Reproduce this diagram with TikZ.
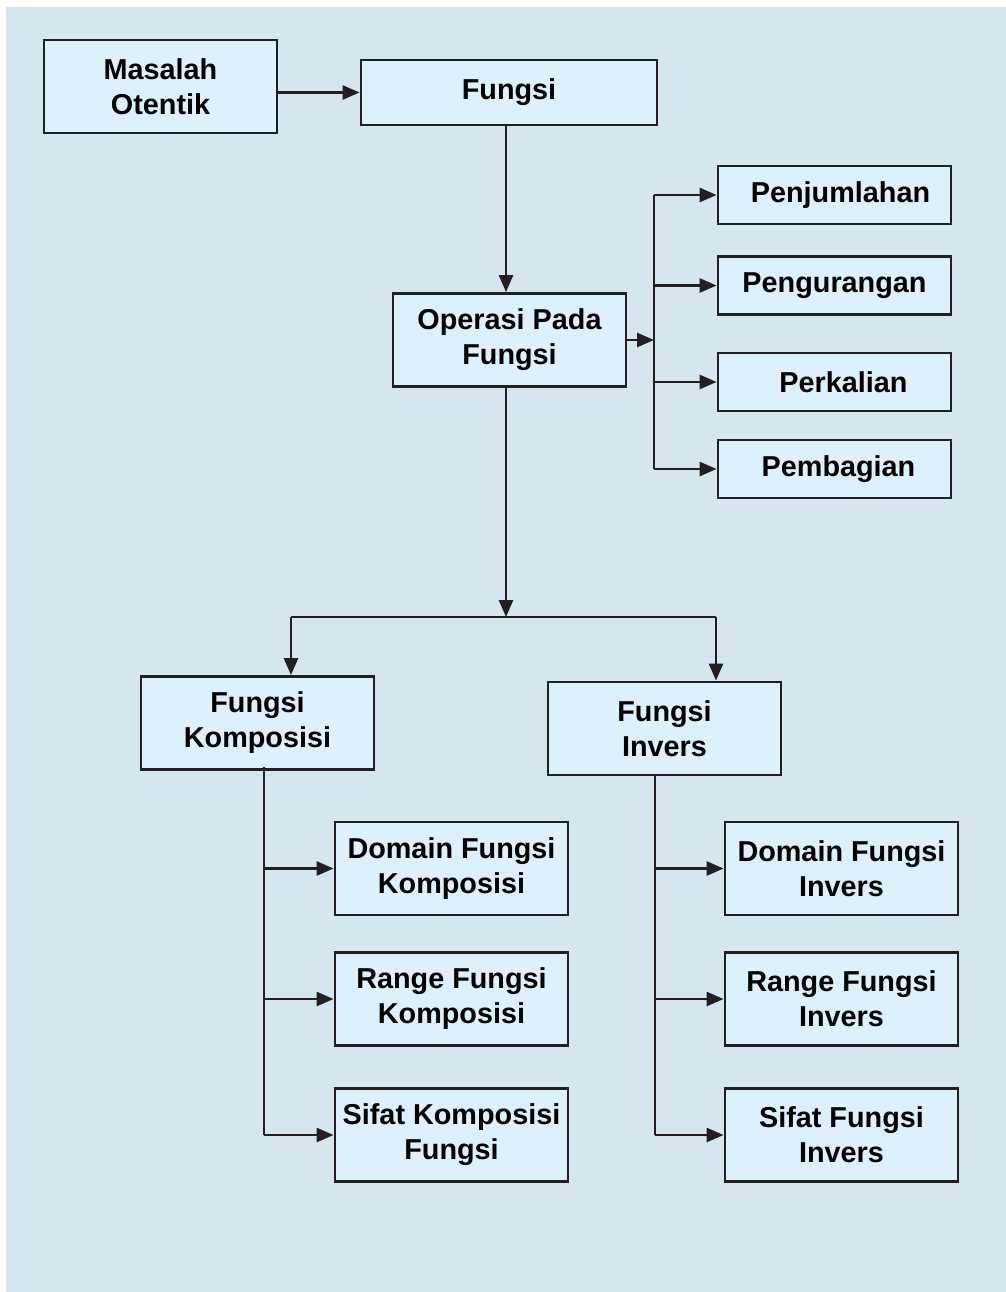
\documentclass[tikz,border=0pt]{standalone}
\usepackage{fontspec}
\setmainfont{Liberation Sans}
\usetikzlibrary{arrows.meta}
\definecolor{bgblue}{RGB}{213,230,239}
\definecolor{boxblue}{RGB}{220,241,251}
\definecolor{inkgray}{RGB}{35,31,32}

\tikzset{
	topic/.style={draw=inkgray, line width=1.4pt, fill=boxblue, align=center, inner sep=0pt,
		minimum width=116.5pt, minimum height=46.5pt, font=\fontsize{14.4}{17.5}\selectfont\bfseries},
	optopic/.style={topic, minimum height=29pt},
	link/.style={draw=inkgray, line width=1.35pt, -{Triangle[length=8.5pt,width=7pt]}},
	busline/.style={draw=inkgray, line width=1.35pt}
}

\begin{document}
\begin{tikzpicture}[x=0.5pt,y=-0.5pt]
	\useasboundingbox (0,0) rectangle (1006,1292);
	\fill[bgblue] (6,7) rectangle (1006,1292);

	% top row
	\node[topic] (masalah) at (160.5,86.5) {Masalah\\Otentik};
	\node[topic, minimum width=148pt, minimum height=32.5pt] (fungsi) at (509,92.5) {Fungsi};
	\node[topic] (operasi) at (509.5,340) {Operasi Pada\\Fungsi};

	% operations
	\node[optopic] (jumlah) at (834.5,195) {\hspace*{6pt}Penjumlahan};
	\node[optopic] (kurang) at (834.5,285.5) {Pengurangan};
	\node[optopic] (kali) at (834.5,382) {\hspace*{9pt}Perkalian};
	\node[optopic] (bagi) at (834.5,469) {\hspace*{4pt}Pembagian};

	% second level
	\node[topic] (komposisi) at (257.5,723) {Fungsi\\Komposisi};
	\node[topic] (invers) at (664.5,728.5) {Fungsi\\Invers};

	\node[topic] (domaink) at (451.5,868.5) {Domain Fungsi\\Komposisi};
	\node[topic] (rangek) at (451.5,999) {Range Fungsi\\Komposisi};
	\node[topic] (sifatk) at (451.5,1135) {Sifat Komposisi\\Fungsi};

	\node[topic] (domaini) at (841.5,868.5) {Domain Fungsi\\Invers};
	\node[topic] (rangei) at (841.5,999) {Range Fungsi\\Invers};
	\node[topic] (sifati) at (841.5,1135) {Sifat Fungsi\\Invers};

	% helper points
	\coordinate (opbus) at (654,340);
	\coordinate (split) at (506,617);
	\coordinate (kdrop) at (291,617);
	\coordinate (idrop) at (716,617);
	\coordinate (kstem) at (264,767);
	\coordinate (istem) at (655,775);

	% connectors
	\draw[link] (masalah.east |- fungsi) -- (fungsi.west);
	\draw[link] (fungsi.south -| split) -- (operasi.north -| split);

	\draw[link] (operasi.east) -- (opbus);
	\draw[busline] (opbus |- jumlah.west) -- (opbus |- bagi.west);
	\foreach \op in {jumlah,kurang,kali,bagi}
		\draw[link] (opbus |- \op.west) -- (\op.west);

	\draw[link] (operasi.south -| split) -- (split);
	\draw[busline] (kdrop) -- (idrop);
	\draw[link] (kdrop) -- (kdrop |- komposisi.north);
	\draw[link] (idrop) -- (idrop |- invers.north);

	\draw[busline] (kstem) -- (kstem |- sifatk.west);
	\foreach \sub in {domaink,rangek,sifatk}
		\draw[link] (kstem |- \sub.west) -- (\sub.west);

	\draw[busline] (istem) -- (istem |- sifati.west);
	\foreach \sub in {domaini,rangei,sifati}
		\draw[link] (istem |- \sub.west) -- (\sub.west);

\end{tikzpicture}
\end{document}
